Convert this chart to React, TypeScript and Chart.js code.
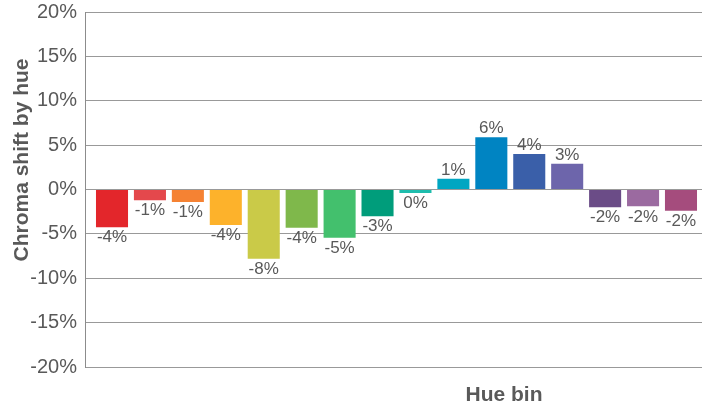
import React, { useEffect, useRef } from "react";
import { Chart, registerables } from "chart.js";

Chart.register(...registerables);

const hueBins = [
  "Red", "Red-orange", "Orange", "Yellow-orange", "Yellow", "Yellow-green", "Green", "Teal-green",
  "Teal", "Cyan", "Azure", "Blue", "Violet", "Purple", "Magenta", "Pink",
];
const chromaShift = [-4.25, -1.2, -1.4, -4.0, -7.8, -4.3, -5.45, -3.0, -0.4, 1.2, 5.9, 4.0, 2.9, -2.0, -1.9, -2.4];
const barColors = [
  "#E3262B", "#E4484C", "#F58233", "#FDB22B", "#CACA48", "#7FB84B", "#43C06D", "#009D7B",
  "#1EBDAD", "#00A6C2", "#0084C2", "#3A5FA9", "#6D65AB", "#6B4C87", "#9B6AA0", "#A54C7D",
];
const yTicks = [-20, -15, -10, -5, 0, 5, 10, 15, 20];
const yTitle = "Chroma shift by hue";
const xTitle = "Hue bin";

const FONT = "'Liberation Sans', Arial, sans-serif";
const TEXT = "#595959";

const overlayPlugin = {
  id: "overlay",
  afterDatasetsDraw(chart: any) {
    const ctx = chart.ctx;
    const meta = chart.getDatasetMeta(0);
    ctx.save();
    ctx.fillStyle = TEXT;
    ctx.font = `17px ${FONT}`;
    ctx.textAlign = "center";
    meta.data.forEach((bar: any, i: number) => {
      const v = chromaShift[i];
      const label = `${Math.round(v)}%`;
      if (v >= 0) {
        ctx.textBaseline = "alphabetic";
        ctx.fillText(label, bar.x, bar.y - 4);
      } else {
        ctx.textBaseline = "top";
        ctx.fillText(label, bar.x, bar.y + 2);
      }
    });
    // axis titles
    ctx.font = `bold 21px ${FONT}`;
    ctx.textAlign = "center";
    ctx.textBaseline = "alphabetic";
    ctx.fillText(xTitle, 504, 401);
    ctx.translate(28, 160);
    ctx.rotate(-Math.PI / 2);
    ctx.fillText(yTitle, 0, 0);
    ctx.restore();
  },
};

export default function App() {
  const ref = useRef<HTMLCanvasElement>(null);
  useEffect(() => {
    if (!ref.current) return;
    const chart = new Chart(ref.current, {
      type: "bar",
      data: {
        labels: hueBins,
        datasets: [
          {
            data: chromaShift.map((v, i) => ({ x: i, y: v })) as any,
            backgroundColor: barColors,
            borderWidth: 0,
            categoryPercentage: 1,
            barPercentage: 0.845,
          },
        ],
      },
      options: {
        animation: false,
        responsive: true,
        maintainAspectRatio: false,
        layout: { padding: { top: 12, bottom: 38, left: 0, right: 0 } },
        plugins: { legend: { display: false }, tooltip: { enabled: false } },
        scales: {
          x: {
            type: "linear",
            display: false,
            offset: false,
            grid: { offset: false },
            min: -0.712,
            max: 15.554,
          },
          y: {
            min: -20,
            max: 20,
            afterFit(scale: any) {
              scale.width = 85;
              scale.paddingTop = 0;
              scale.paddingBottom = 0;
            },
            afterBuildTicks(scale: any) {
              scale.ticks = yTicks.map((v) => ({ value: v }));
            },
            grid: { color: "#999999", lineWidth: 1, drawTicks: false },
            border: { display: true, color: "#8c8c8c", width: 1 },
            ticks: {
              padding: 8,
              color: TEXT,
              font: { size: 20, family: FONT },
              callback: (v: any) => `${v}%`,
            },
          },
        },
      },
      plugins: [overlayPlugin],
    });
    return () => chart.destroy();
  }, []);
  return (
    <div style={{ position: "fixed", left: 0, top: 0, width: 702, height: 405, background: "#fff" }}>
      <canvas ref={ref} />
    </div>
  );
}
